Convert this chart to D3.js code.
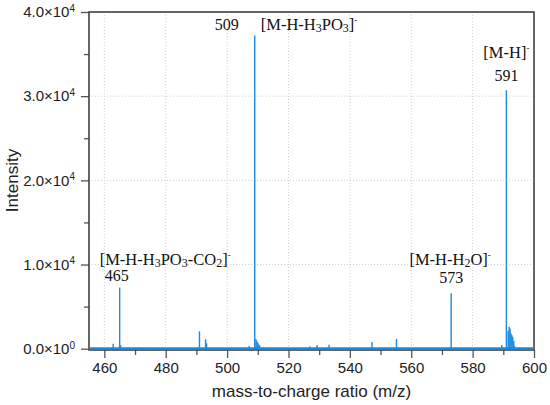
<!DOCTYPE html>
<html>
<head>
<meta charset="utf-8">
<script src="https://cdn.jsdelivr.net/npm/d3@7/dist/d3.min.js"></script>
<style>
  body { margin: 0; background: #fff; }
</style>
</head>
<body>
<div id="chart"></div>
<script>
// spectrum sticks (m/z, intensity)
const peakMz = [462.9, 465.0, 465.3, 474.5, 484.5, 491.0, 493.0, 493.3,
  507.2, 509.0, 509.4, 509.7, 510.0, 510.3, 510.6, 515.2,
  526.9, 529.3, 533.2, 537.4, 547.2, 555.2, 573.0, 589.5,
  591.0, 591.6, 591.9, 592.2, 592.5, 592.8, 593.1, 593.4, 593.7, 595.4];
const peakIntensity = [600, 7250, 420, 100, 100, 2070, 1120, 650,
  320, 37200, 1150, 900, 700, 500, 360, 120,
  280, 440, 480, 100, 800, 1150, 6600, 440,
  30700, 2100, 2600, 2400, 1800, 1600, 1400, 900, 300, 100];

const xTicks = [460, 480, 500, 520, 540, 560, 580, 600];
const xMinorTicks = [470, 490, 510, 530, 550, 570, 590];
const yTicks = [0, 10000, 20000, 30000, 40000];
const yTickMantissa = ["0.0", "1.0", "2.0", "3.0", "4.0"];
const yTickExponent = ["0", "4", "4", "4", "4"];
const yMinorTicks = [5000, 15000, 25000, 35000];

// annotated ions: m/z of the peak, number label and formula parts
const annMz = [465, 509, 573, 591];
const annNumber = ["465", "509", "573", "591"];
const annIon = [
  [["[M-H-H", ""], ["3", "sub"], ["PO", ""], ["3", "sub"], ["-CO", ""], ["2", "sub"], ["]", ""], ["-", "sup"]],
  [["[M-H-H", ""], ["3", "sub"], ["PO", ""], ["3", "sub"], ["]", ""], ["-", "sup"]],
  [["[M-H-H", ""], ["2", "sub"], ["O]", ""], ["-", "sup"]],
  [["[M-H]", ""], ["-", "sup"]]
];

const width = 550, height = 405;
const margin = { top: 12, right: 16, bottom: 56, left: 89 };
const w = width - margin.left - margin.right;
const h = height - margin.top - margin.bottom;
const blue = "#1a8ae0";
const sans = "'Liberation Sans', Arial, sans-serif";
const serif = "'Liberation Serif', 'Times New Roman', serif";

const svg = d3.select("#chart").append("svg")
  .attr("width", width)
  .attr("height", height)
  .append("g")
  .attr("transform", `translate(${margin.left},${margin.top})`);

const x = d3.scaleLinear().domain([455, 600]).range([0, w]);
const y = d3.scaleLinear().domain([0, 40000]).range([h - 0.3, 0]);

// dotted grid
svg.append("g").selectAll("line")
  .data(xTicks.filter(d => d < 600))
  .enter().append("line")
  .attr("x1", d => x(d)).attr("x2", d => x(d))
  .attr("y1", 0).attr("y2", h)
  .style("stroke", "#cfcfcf")
  .style("stroke-dasharray", "1,2");

svg.append("g").selectAll("line")
  .data(yTicks.filter(d => d > 0 && d < 40000))
  .enter().append("line")
  .attr("x1", 0).attr("x2", w)
  .attr("y1", d => y(d)).attr("y2", d => y(d))
  .style("stroke", "#cfcfcf")
  .style("stroke-dasharray", "1,2");

// axes
const xAxis = svg.append("g")
  .attr("transform", `translate(0,${h + 1})`)
  .call(d3.axisBottom(x).tickValues(xTicks).tickSize(8).tickSizeOuter(0).tickPadding(4));
svg.append("g")
  .attr("transform", `translate(0,${h + 1})`)
  .call(d3.axisBottom(x).tickValues(xMinorTicks).tickSize(5).tickFormat(""))
  .select(".domain").remove();

const yAxis = svg.append("g")
  .call(d3.axisLeft(y).tickValues(yTicks).tickSize(8).tickSizeOuter(0).tickPadding(6).tickFormat(""));
svg.append("g")
  .call(d3.axisLeft(y).tickValues(yMinorTicks).tickSize(5).tickFormat(""))
  .select(".domain").remove();

svg.selectAll(".tick line").style("stroke", "#555").style("stroke-width", 1.3);

xAxis.selectAll("text")
  .style("font-family", sans)
  .style("font-size", "15px")
  .style("fill", "#222");

yAxis.selectAll(".tick").each(function(d, i) {
  const t = d3.select(this).select("text")
    .style("font-family", sans)
    .style("font-size", "15px")
    .style("fill", "#222");
  t.text(null);
  t.append("tspan").text(yTickMantissa[i] + "\u00d710");
  t.append("tspan").attr("dy", "-0.55em").style("font-size", "10px").text(yTickExponent[i]);
});

// frame
svg.append("rect")
  .attr("x", 0).attr("y", 0)
  .attr("width", w).attr("height", h + 1)
  .style("fill", "none")
  .style("stroke", "#404040")
  .style("stroke-width", 1.6);
svg.selectAll(".domain").remove();

// spectrum: baseline and sticks
svg.append("line")
  .attr("x1", x(455)).attr("x2", x(600))
  .attr("y1", y(0) - 0.5).attr("y2", y(0) - 0.5)
  .style("stroke", blue)
  .style("stroke-width", 2);

svg.append("g").selectAll("line")
  .data(peakMz.map((d, i) => ({ mz: d, v: peakIntensity[i] })))
  .enter().append("line")
  .attr("x1", d => x(d.mz)).attr("x2", d => x(d.mz))
  .attr("y1", y(0)).attr("y2", d => y(d.v))
  .style("stroke", blue)
  .style("stroke-width", 1.4);

// annotations
const annLayout = [
  { num: ["middle", -3, -7], ion: ["start", -20, -22.5] },
  { num: ["end", -16, -5.5], ion: ["start", 6, -5.5] },
  { num: ["middle", 0, -10.5], ion: ["middle", -1, -28] },
  { num: ["middle", 0, -9], ion: ["middle", 0, -32] }
];

annMz.forEach((mz, i) => {
  const top = y(peakIntensity[peakMz.indexOf(mz)]);
  const L = annLayout[i];
  svg.append("text")
    .attr("x", x(mz) + L.num[1])
    .attr("y", top + L.num[2])
    .attr("text-anchor", L.num[0])
    .style("font-family", serif)
    .style("font-size", "16px")
    .style("fill", "#111")
    .text(annNumber[i]);

  const t = svg.append("text")
    .attr("x", x(mz) + L.ion[1])
    .attr("y", top + L.ion[2])
    .attr("text-anchor", L.ion[0])
    .style("font-family", serif)
    .style("font-size", "16.5px")
    .style("fill", "#111");
  let shift = 0;
  annIon[i].forEach(([s, mode]) => {
    const target = mode === "sub" ? 2 : mode === "sup" ? -7 : 0;
    t.append("tspan")
      .attr("dy", target - shift)
      .style("font-size", mode === "sub" ? "12px" : mode === "sup" ? "9px" : "16.5px")
      .text(s);
    shift = target;
  });
});

// axis titles
svg.append("text")
  .attr("x", w / 2)
  .attr("y", h + 48)
  .attr("text-anchor", "middle")
  .style("font-family", sans)
  .style("font-size", "17px")
  .style("fill", "#222")
  .text("mass-to-charge ratio (m/z)");

svg.append("text")
  .attr("transform", `translate(${-margin.left + 18},${h / 2}) rotate(-90)`)
  .attr("text-anchor", "middle")
  .style("font-family", sans)
  .style("font-size", "17px")
  .style("fill", "#222")
  .text("Intensity");
</script>
</body>
</html>
